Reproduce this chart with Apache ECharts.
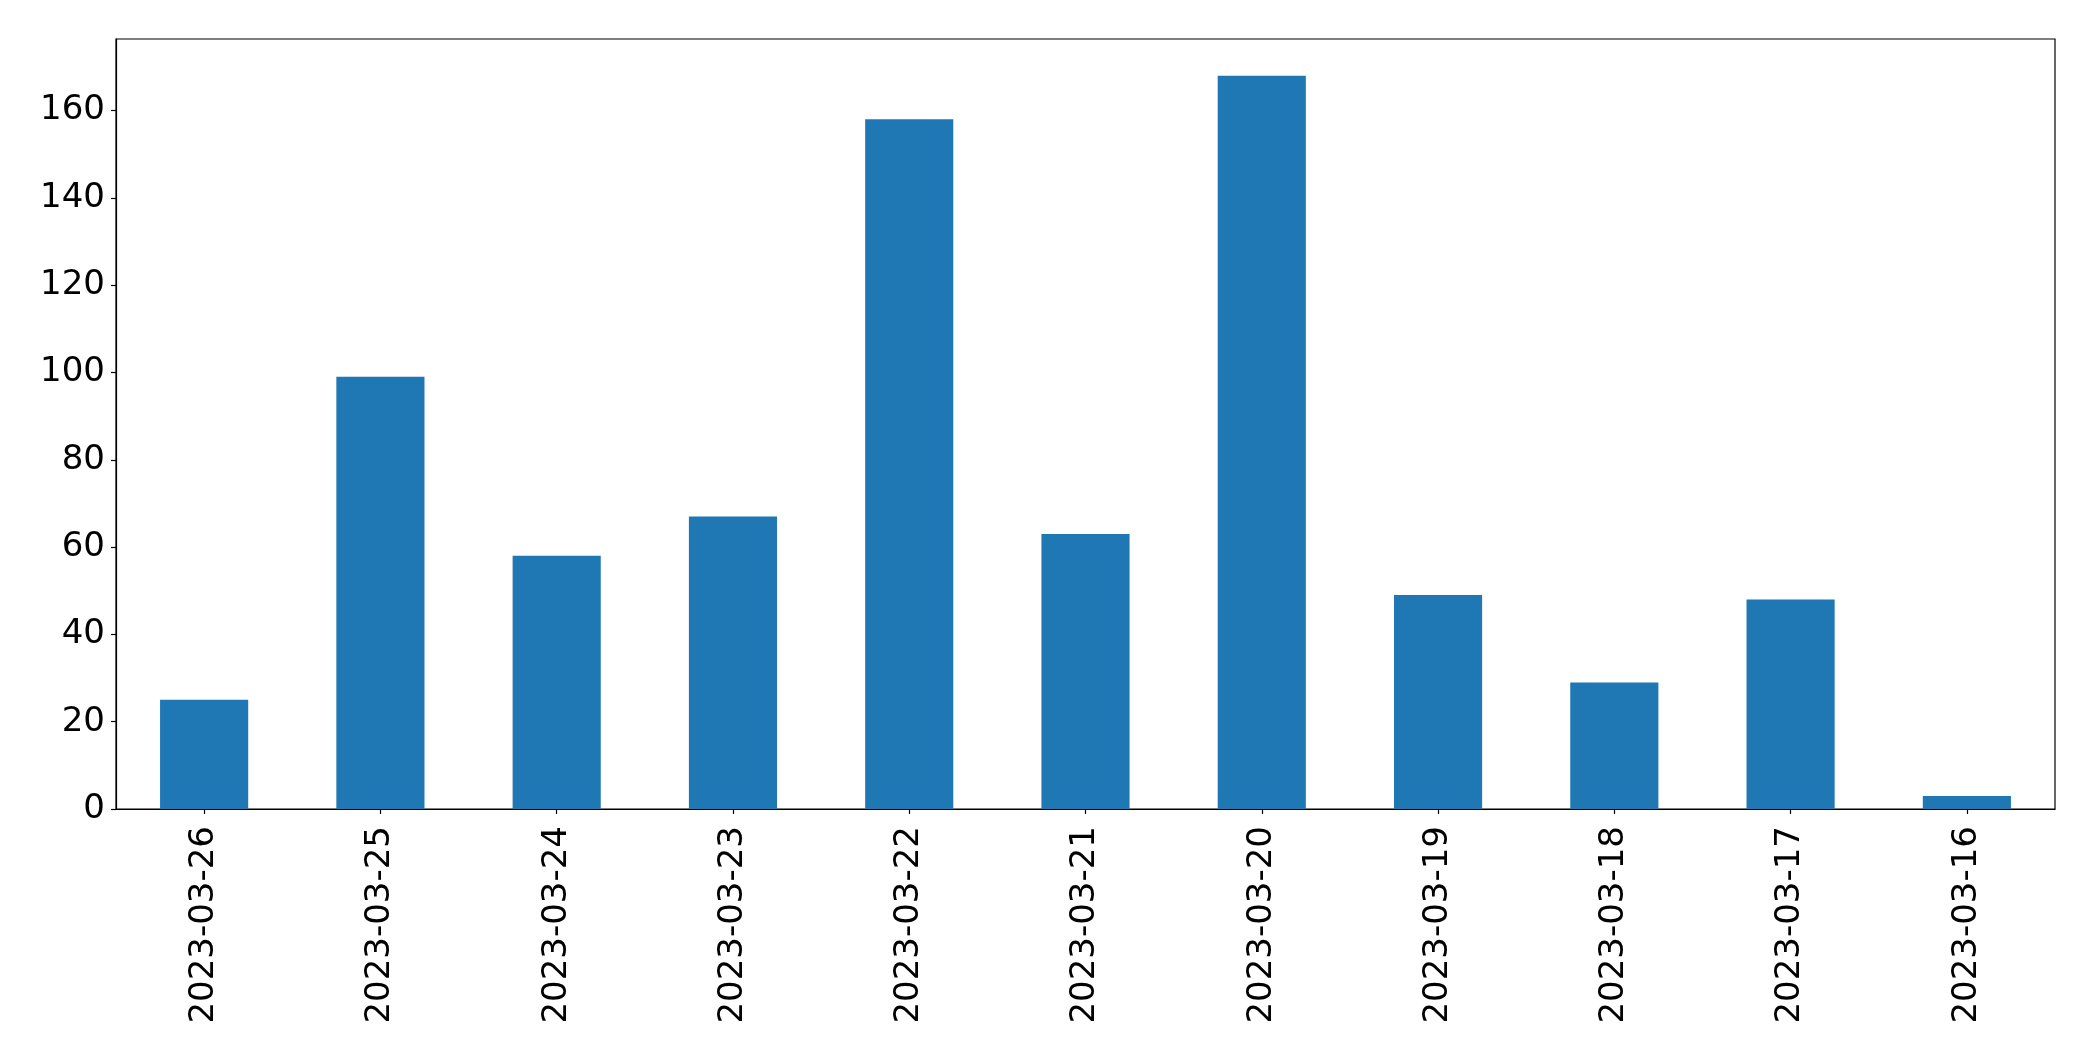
<!DOCTYPE html>
<html>
<head>
<meta charset="utf-8">
<script src="https://cdn.jsdelivr.net/npm/echarts@6/dist/echarts.min.js"></script>
<style>
html,body{margin:0;padding:0;background:#fff;}
#chart{width:2093px;height:1061px;}
</style>
</head>
<body>
<div id="chart"></div>
<script>
const categories = ["2023-03-26","2023-03-25","2023-03-24","2023-03-23","2023-03-22","2023-03-21","2023-03-20","2023-03-19","2023-03-18","2023-03-17","2023-03-16"];
const values = [25, 99, 58, 67, 158, 63, 168, 49, 29, 48, 3];
const yTicks = [0, 20, 40, 60, 80, 100, 120, 140, 160];
const yMax = 176.4;

const chart = echarts.init(document.getElementById('chart'), null, {renderer: 'canvas'});
const font = '"DejaVu Sans", sans-serif';
chart.setOption({
  animation: false,
  backgroundColor: '#ffffff',
  grid: {
    left: 116, right: 38, top: 39, bottom: 252,
    show: true, borderColor: '#000', borderWidth: 1.2, backgroundColor: 'transparent'
  },
  xAxis: {
    type: 'category',
    data: categories,
    boundaryGap: true,
    axisLine: {show: true, lineStyle: {color: '#000', width: 1.2}},
    axisTick: {show: true, alignWithLabel: true, length: 5, lineStyle: {color: '#000', width: 1.2}},
    axisLabel: {rotate: 90, color: '#000', fontSize: 34, fontFamily: font, margin: 17, interval: 0}
  },
  yAxis: {
    type: 'value',
    min: 0, max: yMax, interval: 20,
    splitLine: {show: false},
    axisLine: {show: true, lineStyle: {color: '#000', width: 1.2}},
    axisTick: {show: true, length: 5, lineStyle: {color: '#000', width: 1.2}},
    axisLabel: {
      color: '#000', fontSize: 34, fontFamily: font, margin: 11,
      showMaxLabel: false,
      formatter: function (v) { return yTicks.indexOf(v) >= 0 ? String(v) : ''; }
    }
  },
  series: [{
    type: 'bar',
    data: values,
    barWidth: '50%',
    itemStyle: {color: '#1f77b4'}
  }]
});
</script>
</body>
</html>
